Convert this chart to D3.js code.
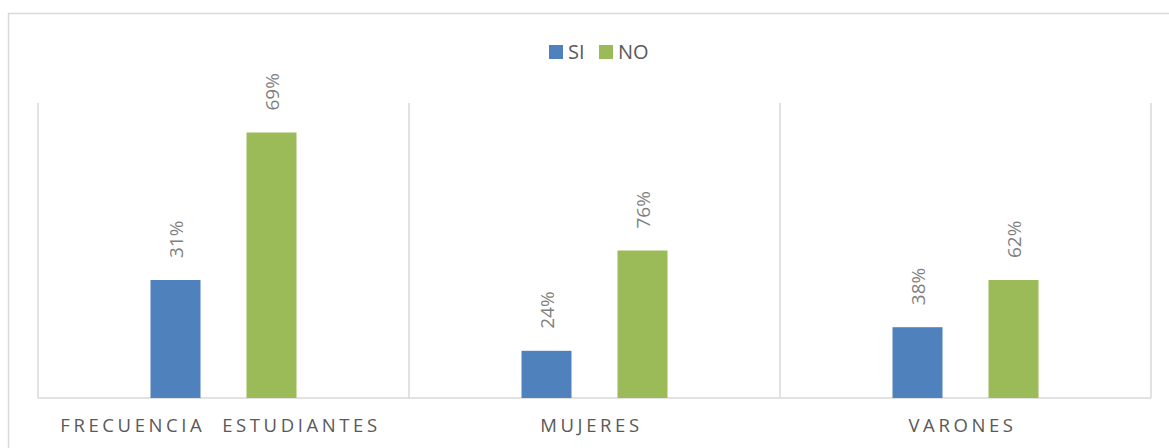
<!DOCTYPE html>
<html><head><meta charset="utf-8">
<script src="https://cdn.jsdelivr.net/npm/d3@7/dist/d3.min.js"></script>
<style>body{margin:0;background:#fff}svg{display:block}</style>
</head><body>
<script>
const categories = ["FRECUENCIA  ESTUDIANTES", "MUJERES", "VARONES"];
const seriesNames = ["SI", "NO"];
const siValues = [40, 16, 24];
const noValues = [90, 50, 40];
const siLabels = ["31%", "24%", "38%"];
const noLabels = ["69%", "76%", "62%"];
const colors = {SI: "#4f81bd", NO: "#9bbb59"};

const W = 1169, H = 448;
const svg = d3.select("body").append("svg").attr("width", W).attr("height", H);

// outer chart border
svg.append("path").attr("d", `M8.5,${H} V13.5 H${W}`).attr("fill", "none")
  .attr("stroke", "#d9d9d9").attr("stroke-width", 1.5);

const plot = {left: 38, right: 1151, top: 103, bottom: 398};
const x0 = d3.scaleBand().domain(categories).range([plot.left, plot.right]).padding(0);
const bw = x0.bandwidth();
const x1 = d3.scaleBand().domain(seriesNames).range([bw / 2 - 96, bw / 2 + 96]).paddingInner(0.479).paddingOuter(0.2395);
const y = d3.scaleLinear().domain([0, 100]).range([plot.bottom, plot.top]);

// vertical gridlines at category boundaries
const bounds = categories.map(c => x0(c)).concat([x0(categories[categories.length - 1]) + bw]);
svg.append("g").selectAll("line").data(bounds).join("line")
  .attr("x1", d => d).attr("x2", d => d)
  .attr("y1", y(100)).attr("y2", y(0))
  .attr("stroke", "#d9d9d9").attr("stroke-width", 1.5);

// baseline
svg.append("line").attr("x1", plot.left).attr("x2", plot.right)
  .attr("y1", y(0)).attr("y2", y(0)).attr("stroke", "#d9d9d9").attr("stroke-width", 1.5);

const rows = categories.map((c, i) => ({cat: c, vals: [
  {s: "SI", v: siValues[i], lab: siLabels[i]},
  {s: "NO", v: noValues[i], lab: noLabels[i]}]}));

const g = svg.append("g").selectAll("g").data(rows).join("g")
  .attr("transform", d => `translate(${x0(d.cat)},0)`);

g.selectAll("rect").data(d => d.vals).join("rect")
  .attr("x", d => x1(d.s)).attr("width", x1.bandwidth())
  .attr("y", d => y(d.v)).attr("height", d => y(0) - y(d.v))
  .attr("fill", d => colors[d.s]);

g.selectAll("text.lab").data(d => d.vals).join("text").attr("class", "lab")
  .attr("transform", d => `translate(${x1(d.s) + x1.bandwidth() / 2 + 7},${y(d.v) - 22}) rotate(-90)`)
  .attr("text-anchor", "start")
  .attr("font-family", "'Open Sans', sans-serif").attr("font-size", 19)
  .attr("fill", "#7f7f7f").text(d => d.lab);

// category axis labels
svg.append("g").selectAll("text").data(categories).join("text")
  .attr("x", d => x0(d) + bw / 2 - 3).attr("y", 432)
  .attr("text-anchor", "middle")
  .attr("font-family", "'Open Sans', sans-serif").attr("font-size", 18.5)
  .attr("letter-spacing", 3.6)
  .attr("xml:space", "preserve").style("white-space", "pre")
  .attr("fill", "#595959").text(d => d);

// legend
const leg = svg.append("g");
const legX = [549, 599];
seriesNames.forEach((s, i) => {
  leg.append("rect").attr("x", legX[i]).attr("y", 45).attr("width", 14).attr("height", 14).attr("fill", colors[s]);
  leg.append("text").attr("x", legX[i] + 19).attr("y", 59)
    .attr("font-family", "'Open Sans', sans-serif").attr("font-size", 20)
    .attr("fill", "#595959").text(s);
});
</script>
</body></html>
